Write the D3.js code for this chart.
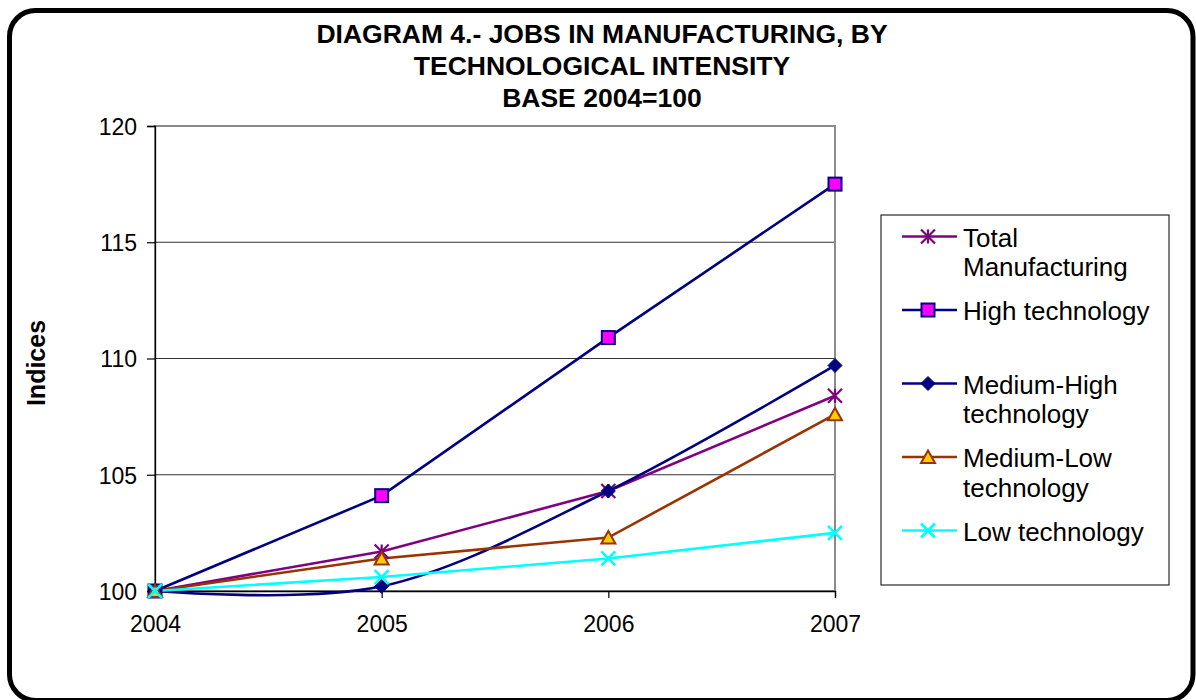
<!DOCTYPE html>
<html>
<head>
<meta charset="utf-8">
<script src="https://cdn.jsdelivr.net/npm/d3@7"></script>
<style>
  html, body { margin: 0; padding: 0; background: #fff; }
  svg { display: block; font-family: "Liberation Sans", Arial, sans-serif; }
</style>
</head>
<body>
<svg id="chart" width="1196" height="700"></svg>
<script>
// Jobs in manufacturing by technological intensity, index 2004 = 100
const years = ["2004", "2005", "2006", "2007"];
const totalManufacturing = [100, 101.7, 104.3, 108.4];
const highTech = [100, 104.1, 110.9, 117.5];
const mediumHighTech = [100, 100.2, 104.3, 109.7];
const mediumLowTech = [100, 101.4, 102.3, 107.6];
const lowTech = [100, 100.6, 101.4, 102.5];
const yTicks = [100, 105, 110, 115, 120];
const titleLines = ["DIAGRAM 4.- JOBS IN MANUFACTURING, BY", "TECHNOLOGICAL INTENSITY", "BASE 2004=100"];
const yAxisTitle = "Indices";

const series = [
  { name: ["Total", "Manufacturing"], values: totalManufacturing, color: "#800080", marker: "star", smooth: false },
  { name: ["High technology"], values: highTech, color: "#000080", marker: "square", fill: "#FF00FF", smooth: false },
  { name: ["Medium-High", "technology"], values: mediumHighTech, color: "#000080", marker: "diamond", fill: "#000080", smooth: true },
  { name: ["Medium-Low", "technology"], values: mediumLowTech, color: "#993300", marker: "triangle", fill: "#FFCC00", smooth: false },
  { name: ["Low technology"], values: lowTech, color: "#00FFFF", marker: "cross", smooth: false }
];

const svg = d3.select("#chart");

// outer rounded frame
svg.append("rect")
  .attr("x", 9.5).attr("y", 10.5)
  .attr("width", 1183.5).attr("height", 690)
  .attr("rx", 26).attr("ry", 26)
  .attr("fill", "#fff").attr("stroke", "#000").attr("stroke-width", 5);

// title
svg.append("g").selectAll("text").data(titleLines).join("text")
  .attr("x", 602).attr("y", (d, i) => 43 + i * 32)
  .attr("text-anchor", "middle")
  .attr("font-size", 26.5).attr("font-weight", "bold")
  .text(d => d);

const plot = { left: 155, right: 835, top: 126, bottom: 591 };
const x = d3.scalePoint().domain(years).range([plot.left, plot.right]);
const y = d3.scaleLinear().domain([100, 120]).range([plot.bottom, plot.top]);

// gridlines
svg.append("g").selectAll("line").data(yTicks.filter(t => t !== 100 && t !== 120)).join("line")
  .attr("x1", plot.left).attr("x2", plot.right)
  .attr("y1", d => y(d)).attr("y2", d => y(d))
  .attr("stroke", "#333").attr("stroke-width", 1.2);

// plot area border
svg.append("rect")
  .attr("x", plot.left).attr("y", plot.top)
  .attr("width", plot.right - plot.left).attr("height", plot.bottom - plot.top)
  .attr("fill", "none").attr("stroke", "#8a8a8a").attr("stroke-width", 2);

// y axis
const yAxis = d3.axisLeft(y).tickValues(yTicks).tickSize(8).tickPadding(10).tickFormat(d3.format("d"));
const gy = svg.append("g").attr("transform", `translate(${plot.left},0)`).call(yAxis);
gy.select(".domain").attr("stroke", "#000").attr("stroke-width", 1.3);
gy.selectAll(".tick line").attr("stroke", "#000").attr("stroke-width", 1.2);
gy.selectAll(".tick text").attr("font-size", 23).attr("fill", "#000")
  .attr("font-family", "Liberation Sans, Arial, sans-serif").attr("dy", "0.36em");

// x axis
const xAxis = d3.axisBottom(x).tickSize(7).tickPadding(18);
const gx = svg.append("g").attr("transform", `translate(0,${plot.bottom})`).call(xAxis);
gx.select(".domain").attr("stroke", "#000").attr("stroke-width", 1.3);
gx.selectAll(".tick line").attr("stroke", "#000").attr("stroke-width", 1.2);
gx.selectAll(".tick text").attr("font-size", 23).attr("fill", "#000")
  .attr("font-family", "Liberation Sans, Arial, sans-serif").attr("dy", "0.71em");

// y axis title
svg.append("text")
  .attr("transform", "translate(45,363) rotate(-90)")
  .attr("text-anchor", "middle")
  .attr("font-size", 25).attr("font-weight", "bold")
  .text(yAxisTitle);

// marker drawing
function drawMarker(g, s) {
  const r = 7;
  if (s.marker === "square") {
    g.append("rect").attr("x", -6.5).attr("y", -6.5).attr("width", 13).attr("height", 13)
      .attr("fill", s.fill).attr("stroke", s.color).attr("stroke-width", 2);
  } else if (s.marker === "diamond") {
    g.append("path").attr("d", `M0,${-r}L${r},0L0,${r}L${-r},0Z`)
      .attr("fill", s.fill).attr("stroke", s.color).attr("stroke-width", 1);
  } else if (s.marker === "triangle") {
    g.append("path").attr("d", `M0,${-r + 0.5}L${r},${r - 1}L${-r},${r - 1}Z`)
      .attr("fill", s.fill).attr("stroke", s.color).attr("stroke-width", 2).attr("stroke-linejoin", "miter");
  } else if (s.marker === "star") {
    g.append("path").attr("d", `M${-r},${-r}L${r},${r}M${-r},${r}L${r},${-r}M0,${-r}L0,${r}`)
      .attr("fill", "none").attr("stroke", s.color).attr("stroke-width", 2.2);
  } else if (s.marker === "cross") {
    g.append("path").attr("d", `M${-r},${-r}L${r},${r}M${-r},${r}L${r},${-r}`)
      .attr("fill", "none").attr("stroke", s.color).attr("stroke-width", 2.6);
  }
}

// series lines and markers
series.forEach(s => {
  const line = d3.line()
    .x((d, i) => x(years[i]))
    .y(d => y(d))
    .curve(s.smooth ? d3.curveCatmullRom.alpha(0) : d3.curveLinear);
  svg.append("path").datum(s.values)
    .attr("d", line)
    .attr("fill", "none").attr("stroke", s.color).attr("stroke-width", 2.6);
});
series.forEach(s => {
  s.values.forEach((v, i) => {
    const g = svg.append("g").attr("transform", `translate(${x(years[i])},${y(v)})`);
    drawMarker(g, s);
  });
});

// legend
const legend = svg.append("g");
legend.append("rect")
  .attr("x", 881).attr("y", 215).attr("width", 288).attr("height", 370)
  .attr("fill", "#fff").attr("stroke", "#000").attr("stroke-width", 1);

series.forEach((s, i) => {
  const baseline = 246.5 + i * 73.5;
  const my = baseline - 10;
  const item = legend.append("g");
  item.append("line").attr("x1", 902).attr("x2", 957).attr("y1", my).attr("y2", my)
    .attr("stroke", s.color).attr("stroke-width", 2.6);
  drawMarker(item.append("g").attr("transform", `translate(928,${my})`), s);
  item.selectAll("text").data(s.name).join("text")
    .attr("x", 963).attr("y", (d, j) => baseline + j * 29.5)
    .attr("font-size", 26).attr("fill", "#000")
    .text(d => d);
});
</script>
</body>
</html>
